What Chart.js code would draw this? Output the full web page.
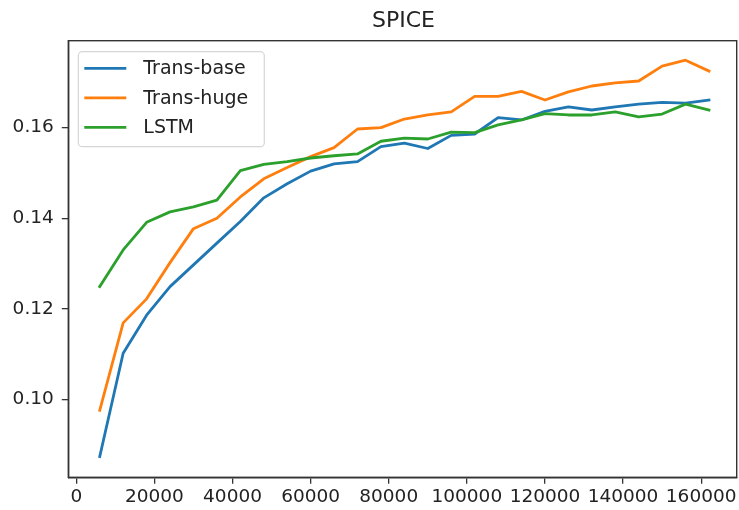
<!DOCTYPE html>
<html>
<head>
<meta charset="utf-8">
<script src="https://cdn.jsdelivr.net/npm/chart.js@4/dist/chart.umd.min.js"></script>
<style>
  html, body { margin: 0; padding: 0; background: #ffffff; }
  #wrap { width: 739px; height: 510px; position: relative; }
</style>
</head>
<body>
<div id="wrap"><canvas id="chart" width="739" height="510"></canvas></div>
<script>
// Training steps at which SPICE was evaluated
const steps = [6000, 12000, 18000, 24000, 30000, 36000, 42000, 48000, 54000, 60000,
  66000, 72000, 78000, 84000, 90000, 96000, 102000, 108000, 114000, 120000,
  126000, 132000, 138000, 144000, 150000, 156000, 162000];

const transBase = [0.0874, 0.1102, 0.1186, 0.1249, 0.1297, 0.1345, 0.1393, 0.1445, 0.1476, 0.1504,
  0.1520, 0.1525, 0.1558, 0.1566, 0.1554, 0.1583, 0.1586, 0.1622, 0.1617, 0.1636,
  0.1646, 0.1639, 0.1646, 0.1652, 0.1656, 0.1654, 0.1661];

const transHuge = [0.0976, 0.1169, 0.1222, 0.1302, 0.1377, 0.1400, 0.1447, 0.1487, 0.1512, 0.1536,
  0.1556, 0.1597, 0.1600, 0.1619, 0.1628, 0.1635, 0.1669, 0.1669, 0.1680, 0.1661,
  0.1679, 0.1692, 0.1699, 0.1703, 0.1736, 0.1749, 0.1725];

const lstm = [0.1249, 0.1330, 0.1391, 0.1414, 0.1425, 0.1440, 0.1505, 0.1519, 0.1525, 0.1533,
  0.1538, 0.1542, 0.1570, 0.1577, 0.1575, 0.1590, 0.1589, 0.1606, 0.1617, 0.1631,
  0.1628, 0.1628, 0.1635, 0.1624, 0.1630, 0.1652, 0.1639];

const seriesLabels = ['Trans-base', 'Trans-huge', 'LSTM'];
const xTicks = [0, 20000, 40000, 60000, 80000, 100000, 120000, 140000, 160000];
const yTicks = [0.10, 0.12, 0.14, 0.16];
const chartTitle = 'SPICE';

const FONT = "'DejaVu Sans', sans-serif";
const AXIS_COLOR = '#333333';

function points(ys) {
  return steps.map((s, i) => ({ x: s, y: ys[i] }));
}

// Frame around the plotting area plus the title
const framePlugin = {
  id: 'frame',
  afterDraw(chart) {
    const { ctx, chartArea: a } = chart;
    ctx.save();
    ctx.strokeStyle = AXIS_COLOR;
    ctx.lineWidth = 1.4;
    ctx.strokeRect(a.left, a.top, a.right - a.left, a.bottom - a.top);
    ctx.fillStyle = '#222222';
    ctx.font = '22px ' + FONT;
    ctx.textAlign = 'center';
    ctx.textBaseline = 'middle';
    ctx.fillText(chartTitle, (a.left + a.right) / 2 + 1, 21);
    ctx.restore();
  }
};

// Legend box in the upper-left corner
const legendPlugin = {
  id: 'cornerLegend',
  afterDraw(chart) {
    const { ctx, chartArea: a } = chart;
    const x0 = a.left + 10, y0 = a.top + 11, w = 186, h = 95, r = 4;
    ctx.save();
    ctx.beginPath();
    ctx.roundRect(x0, y0, w, h, r);
    ctx.fillStyle = 'rgba(255,255,255,0.8)';
    ctx.fill();
    ctx.strokeStyle = '#d6d6d6';
    ctx.lineWidth = 1.2;
    ctx.stroke();
    ctx.font = '19px ' + FONT;
    ctx.textBaseline = 'middle';
    ctx.textAlign = 'left';
    chart.data.datasets.forEach((ds, i) => {
      const y = y0 + 16.6 + i * 29.5;
      ctx.beginPath();
      ctx.moveTo(x0 + 6, y);
      ctx.lineTo(x0 + 48, y);
      ctx.strokeStyle = ds.borderColor;
      ctx.lineWidth = 2.8;
      ctx.stroke();
      ctx.fillStyle = '#222222';
      ctx.fillText(ds.label, x0 + 65, y + 1);
    });
    ctx.restore();
  }
};

new Chart(document.getElementById('chart'), {
  type: 'line',
  data: {
    datasets: [
      { label: seriesLabels[0], data: points(transBase), borderColor: '#1f77b4', order: 2 },
      { label: seriesLabels[1], data: points(transHuge), borderColor: '#ff7f0e', order: 1 },
      { label: seriesLabels[2], data: points(lstm), borderColor: '#2ca02c', order: 0 }
    ]
  },
  options: {
    responsive: false,
    animation: false,
    devicePixelRatio: 1,
    layout: { padding: { left: 0, right: 2.3, top: 40.7, bottom: 0 } },
    elements: {
      line: { borderWidth: 2.8, tension: 0, fill: false, borderCapStyle: 'square', borderJoinStyle: 'round' },
      point: { radius: 0, hoverRadius: 0 }
    },
    plugins: {
      legend: { display: false },
      title: { display: false },
      tooltip: { enabled: false }
    },
    scales: {
      x: {
        type: 'linear',
        min: -2050,
        max: 169100,
        afterBuildTicks(scale) { scale.ticks = xTicks.map(v => ({ value: v })); },
        afterFit(scale) { scale.height = 32.7; },
        grid: { display: true, drawOnChartArea: false, drawTicks: true, tickLength: 6.5, color: AXIS_COLOR, lineWidth: 1.3 },
        border: { display: true, color: AXIS_COLOR, width: 1.4 },
        ticks: {
          color: '#222222',
          font: { family: FONT, size: 18.5 },
          padding: 2,
          maxRotation: 0,
          autoSkip: false,
          callback: v => String(v)
        }
      },
      y: {
        type: 'linear',
        min: 0.0828,
        max: 0.1792,
        afterBuildTicks(scale) { scale.ticks = yTicks.map(v => ({ value: v })); },
        afterFit(scale) { scale.width = 68.3; },
        grid: { display: true, drawOnChartArea: false, drawTicks: true, tickLength: 6.5, color: AXIS_COLOR, lineWidth: 1.3 },
        border: { display: true, color: AXIS_COLOR, width: 1.4 },
        ticks: {
          color: '#222222',
          font: { family: FONT, size: 18.5 },
          padding: 8,
          autoSkip: false,
          callback: v => v.toFixed(2)
        }
      }
    }
  },
  plugins: [framePlugin, legendPlugin]
});
</script>
</body>
</html>
